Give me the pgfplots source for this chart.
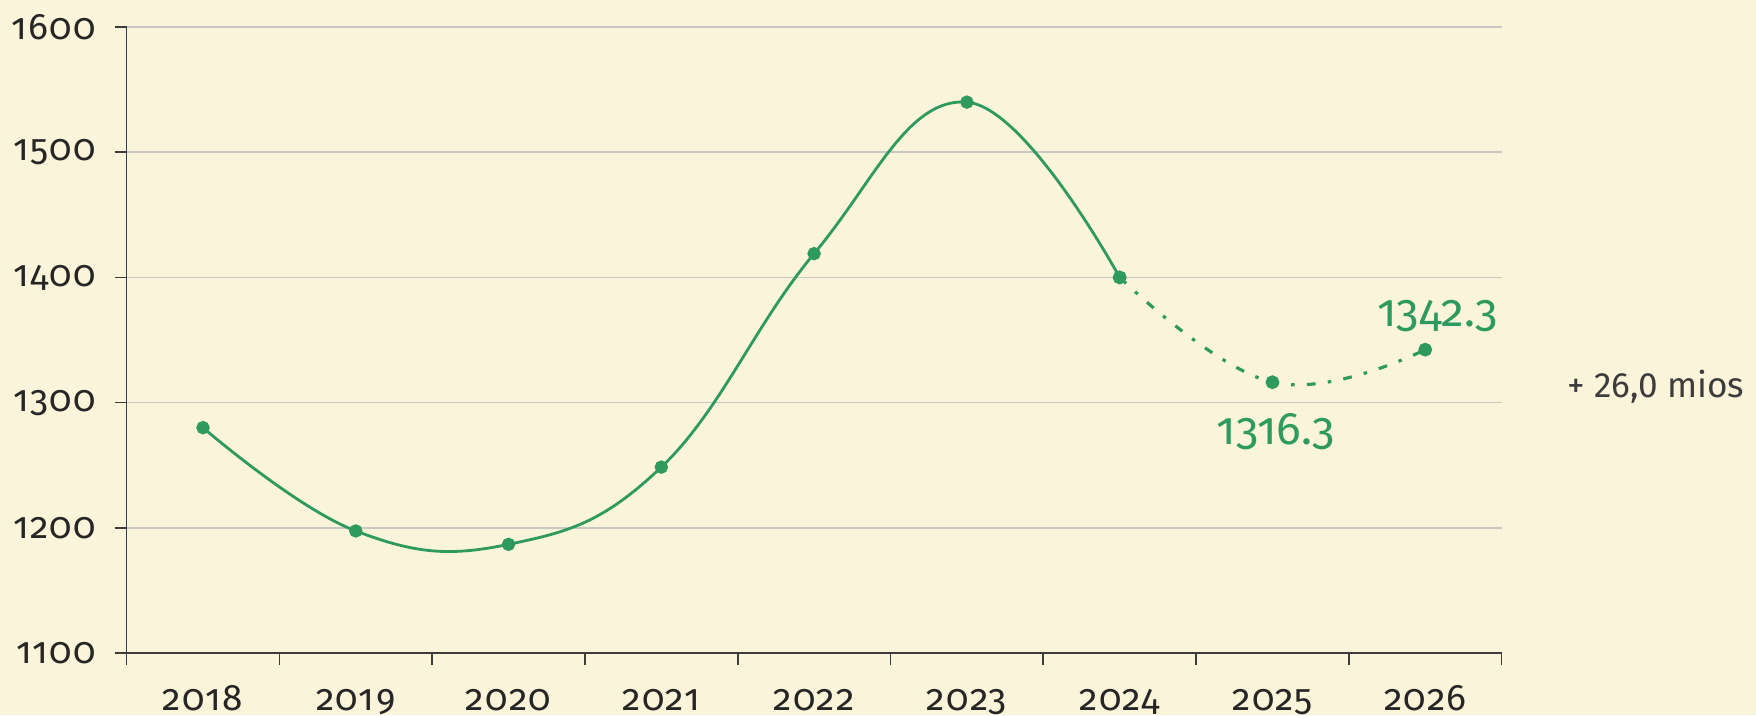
\documentclass[border=0pt]{standalone}
\usepackage{fontspec}
\setmainfont{Fira Sans}[Numbers=OldStyle]
\usepackage{pgfplots}
\pgfplotsset{compat=1.18}
\definecolor{bg}{RGB}{250,244,218}
\definecolor{gr}{RGB}{46,154,94}
\definecolor{gridc}{RGB}{200,200,195}
\definecolor{axc}{RGB}{60,60,60}
\begin{document}
\begin{tikzpicture}
\fill[bg] (0,0) rectangle (175.6mm,71.5mm);
\useasboundingbox (0,0) rectangle (175.6mm,71.5mm);
\begin{axis}[
  at={(12.66mm,6.2mm)}, anchor=south west,
  scale only axis, width=137.5mm, height=62.6mm,
  xmin=-0.5, xmax=8.5, ymin=1100, ymax=1600,
  clip=false,
  axis lines=left, axis line style={-, draw=axc, line width=0.45pt},
  xtick={0,...,8}, xticklabels={2018,2019,2020,2021,2022,2023,2024,2025,2026},
  minor xtick={-0.5,0.5,...,8.5},
  major x tick style={draw=none},
  minor x tick style={draw=axc, line width=0.45pt},
  y tick style={draw=axc, line width=0.45pt},
  minor tick length=1.2mm, major tick length=1.2mm,
  tick align=outside,
  ytick={1100,1200,...,1600},
  ymajorgrids, grid style={gridc, line width=0.45pt},
  /pgf/number format/assume math mode=true,
  /pgf/number format/1000 sep={},
  ticklabel style={font=\fontsize{10.5}{12}\selectfont\addfontfeature{LetterSpace=4}, text=black!85},
  xticklabel style={text height=1.6ex, text depth=0.45ex, yshift=-0.3mm},
  yticklabel style={xshift=-0.6mm},
]
\addplot[gr, line width=0.8pt, smooth, tension=0.7, mark=*, mark size=1.5pt] coordinates {(0,1280)(1,1197.5)(2,1186.8)(3,1248.5)(4,1419)(5,1540)(6,1400)};
\addplot[gr, line width=0.9pt, smooth, tension=0.7, dash pattern=on 2.5pt off 3.5pt on 1pt off 3.5pt, mark=*, mark size=1.5pt, mark options={solid}] coordinates {(6,1400)(7,1316.3)(8,1342.3)};
\node[text=gr, font=\fontsize{13}{15}\selectfont] at (axis cs:8.08,1369) {1342.3};
\node[text=gr, font=\fontsize{13}{15}\selectfont] at (axis cs:7.02,1276.5) {1316.3};
\node[text=axc, font=\fontsize{10}{12}\selectfont] at (axis cs:9.51,1313) {\addfontfeature{Numbers=Lining}+ 26,0 mios};
\end{axis}
\end{tikzpicture}
\end{document}
